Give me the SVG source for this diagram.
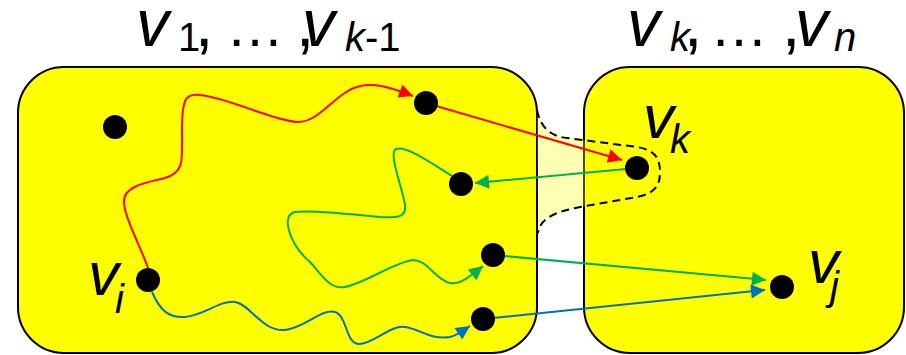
<svg xmlns="http://www.w3.org/2000/svg" width="906" height="355" viewBox="0 0 906 355">
<defs>
<style>
.box{fill:#ffff00;stroke:#000;stroke-width:2}
.dot{fill:#000}
.t{font-family:"Liberation Sans",Arial,sans-serif;font-style:italic;font-size:62px;fill:#000}
.h{font-size:66px}
.s{font-size:40px}
.u{font-style:normal}
.c{fill:none;stroke-width:2}
.r{stroke:#ff0000}
.g{stroke:#00b050}
.b{stroke:#0070c0}
</style>
<marker id="ar" viewBox="0 0 10 10" refX="10" refY="5" markerUnits="userSpaceOnUse" markerWidth="18" markerHeight="14" orient="auto"><path d="M0,0 L10,5 L0,10 z" fill="#ff0000"/></marker>
<marker id="ag" viewBox="0 0 10 10" refX="10" refY="5" markerUnits="userSpaceOnUse" markerWidth="18" markerHeight="14" orient="auto"><path d="M0,0 L10,5 L0,10 z" fill="#00b050"/></marker>
<marker id="ab" viewBox="0 0 10 10" refX="10" refY="5" markerUnits="userSpaceOnUse" markerWidth="18" markerHeight="14" orient="auto"><path d="M0,0 L10,5 L0,10 z" fill="#0070c0"/></marker>
</defs>
<rect width="906" height="355" fill="#fff"/>
<g id="setA">
<rect class="box" x="18" y="67" width="519" height="286" rx="46" ry="46"/>
<text class="t h" y="46"><tspan x="136">v</tspan><tspan class="s u" x="178" y="51">1</tspan><tspan x="195" y="46" class="u">,</tspan><tspan x="226" class="u" font-size="58">…</tspan><tspan x="296" class="u">,</tspan><tspan x="302">v</tspan><tspan class="s" x="345" y="51">k</tspan><tspan class="s u">-1</tspan></text>
</g>
<g id="setB">
<rect class="box" x="584" y="67" width="320" height="286" rx="46" ry="46"/>
<text class="t h" y="46"><tspan x="627">v</tspan><tspan class="s" x="670" y="51">k</tspan><tspan x="684" y="46" class="u">,</tspan><tspan x="710" class="u" font-size="58">…</tspan><tspan x="782" class="u">,</tspan><tspan x="795">v</tspan><tspan class="s" x="834" y="51">n</tspan></text>
</g>
<g id="region">
<path d="M537,110 C540,125 548,136 567,138 L637,147 C655,150 660,158 660,172 C660,186 655,193 637,197 L580,207 C555,212 540,218 538,233 Z" fill="#ffff00" fill-opacity="0.3"/>
<path d="M537,110 C540,125 548,136 567,138 L637,147 C655,150 660,158 660,172 C660,186 655,193 637,197 L580,207 C555,212 540,218 538,233" fill="none" stroke="#000" stroke-width="2" stroke-dasharray="8,5"/>
</g>
<g id="connectors">
<path class="c r" d="M148,268 C140,245 123,215 124,200 C125,185 150,182 165,178 C185,172 182,160 182,130 C182,100 185,93 200,95 C230,98 270,120 297,122 C320,123 335,92 360,86 C375,83 390,87 413,96" marker-end="url(#ar)"/>
<path class="c r" d="M426,103 L622,160" marker-end="url(#ar)"/>
<path class="c g" d="M637,168 L475,183" marker-end="url(#ag)"/>
<path class="c g" d="M452,176 C430,162 405,145 396,149 C388,153 403,190 405,205 C407,218 395,218 380,217 C350,214 310,210 295,212 C280,215 290,245 310,262 C322,275 330,290 345,287 C365,283 395,262 413,260 C428,260 435,280 450,283 C460,285 472,275 483,266" marker-end="url(#ag)"/>
<path class="c g" d="M493,255 L766,280" marker-end="url(#ag)"/>
<path class="c b" d="M152,292 C160,310 168,318 185,317 C205,315 220,300 235,302 C250,304 262,332 285,330 C305,328 322,308 335,312 C348,316 345,345 360,344 C375,343 390,325 405,327 C420,329 430,340 450,337 C458,335 464,330 470,326" marker-end="url(#ab)"/>
<path class="c b" d="M483,319 L765,290" marker-end="url(#ab)"/>
</g>
<g id="n1"><circle class="dot" cx="115" cy="127" r="12"/></g>
<g id="n2"><circle class="dot" cx="426" cy="103" r="12"/></g>
<g id="vi"><circle class="dot" cx="148" cy="280" r="12"/><text class="t" y="295"><tspan x="88">v</tspan><tspan class="s" x="115" y="313">i</tspan></text></g>
<g id="n3"><circle class="dot" cx="461" cy="184" r="12"/></g>
<g id="n4"><circle class="dot" cx="493" cy="255" r="12"/></g>
<g id="n5"><circle class="dot" cx="483" cy="319" r="12"/></g>
<g id="vk"><circle class="dot" cx="637" cy="168" r="12"/><text class="t" y="138"><tspan x="643">v</tspan><tspan class="s" x="670" y="153">k</tspan></text></g>
<g id="vj"><circle class="dot" cx="782" cy="287" r="12"/><text class="t" y="283"><tspan x="808">v</tspan><tspan class="s" x="830" y="300">j</tspan></text></g>
</svg>
